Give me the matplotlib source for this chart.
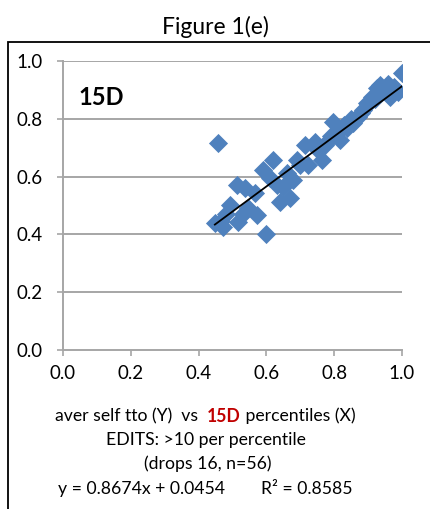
import matplotlib
matplotlib.use("Agg")
from matplotlib import pyplot as plt
from matplotlib.patches import Rectangle
import numpy as np

plt.rcParams['font.family'] = ['Lato', 'DejaVu Sans']

# 15D percentiles (X) against average self TTO (Y)
pct_15d = [0.448, 0.473, 0.465, 0.493, 0.517, 0.480, 0.512, 0.537, 0.566, 0.571,
           0.547, 0.599, 0.458, 0.591, 0.620, 0.611, 0.640, 0.670, 0.650, 0.679,
           0.660, 0.689, 0.714, 0.743, 0.724, 0.763, 0.773, 0.797, 0.817, 0.807,
           0.837, 0.856, 0.871, 0.886, 0.896, 0.911, 0.925, 0.935, 0.955, 0.975,
           0.989, 1.000, 0.965, 0.900, 0.745, 0.780, 0.790, 0.830, 0.850, 0.880,
           0.920, 0.940, 0.960, 0.700, 0.630, 0.530]
self_tto = [0.438, 0.427, 0.445, 0.502, 0.444, 0.470, 0.571, 0.559, 0.542, 0.467,
            0.490, 0.401, 0.717, 0.623, 0.657, 0.594, 0.513, 0.525, 0.565, 0.588,
            0.611, 0.657, 0.709, 0.721, 0.640, 0.657, 0.709, 0.790, 0.727, 0.750,
            0.767, 0.784, 0.807, 0.830, 0.853, 0.876, 0.905, 0.917, 0.888, 0.911,
            0.894, 0.957, 0.876, 0.850, 0.700, 0.720, 0.740, 0.780, 0.800, 0.820,
            0.870, 0.900, 0.920, 0.640, 0.570, 0.470]

slope, intercept, r2 = 0.8674, 0.0454, 0.8585
ticks = [0.0, 0.2, 0.4, 0.6, 0.8, 1.0]

W, H = 430, 509
fig = plt.figure(figsize=(W / 100, H / 100), dpi=100)
ax = fig.add_axes([63 / W, 1 - 350 / H, (402 - 63) / W, (350 - 61) / H])

grey = '#a6a6a6'
ax.scatter(pct_15d, self_tto, marker='D', s=95, color='#4f81bd', linewidths=0, zorder=3)

xs = np.array([min(pct_15d), max(pct_15d)])
ax.plot(xs, slope * xs + intercept, color='black', lw=1.3, zorder=4)

ax.set_xlim(0, 1)
ax.set_ylim(0, 1)
ax.set_xticks(ticks)
ax.set_yticks(ticks)
ax.set_xticklabels([f'{t:.1f}' for t in ticks], fontsize=13.5)
ax.set_yticklabels([f'{t:.1f}' for t in ticks], fontsize=13.5)
ax.tick_params(axis='x', length=4, color=grey, width=1.2, pad=7)
ax.tick_params(axis='y', length=4.3, color=grey, width=1.2, pad=10.5)
for yv in ticks[1:]:
    ax.axhline(yv, color=grey, lw=1.4, zorder=1)
for side in ['top', 'right']:
    ax.spines[side].set_visible(False)
for side in ['left', 'bottom']:
    ax.spines[side].set_color(grey)
    ax.spines[side].set_linewidth(1.4)

ax.text(0.045, 0.875, '15D', transform=ax.transAxes, fontsize=17,
        fontweight='bold', va='center', ha='left')

fig.text(0.5, 1 - 27 / H, 'Figure 1(e)', fontsize=16.5, ha='center', va='center')

# outer frame, running off the right and bottom edges
fig.patches.append(Rectangle((8 / W, -0.1), 1.2, 1 - 42 / H + 0.1, transform=fig.transFigure,
                             fill=False, edgecolor='black', lw=1.3))

# first caption line: black / bold red / black pieces laid side by side
renderer = fig.canvas.get_renderer()
pieces = [('aver self tto (Y)  vs  ', 'black', 'normal'),
          ('15D', '#c00000', 'bold'),
          (' percentiles (X)', 'black', 'normal')]
arts = [fig.text(0, 1 - 416 / H, s, color=c, fontweight=w, fontsize=12.7, va='center')
        for s, c, w in pieces]
widths = [a.get_window_extent(renderer).width for a in arts]
x0 = 205 - sum(widths) / 2
for a, w in zip(arts, widths):
    a.set_x(x0 / W)
    x0 += w

cap = dict(fontsize=12.7, ha='center', va='center')
fig.text(206 / W, 1 - 440 / H, 'EDITS: >10 per percentile', **cap)
fig.text(208 / W, 1 - 464 / H, '(drops 16, n=56)', **cap)
fig.text(205 / W, 1 - 488 / H, f'y = {slope}x + {intercept}        R² = {r2}', **cap)

fig.savefig('out.png', dpi=100)
